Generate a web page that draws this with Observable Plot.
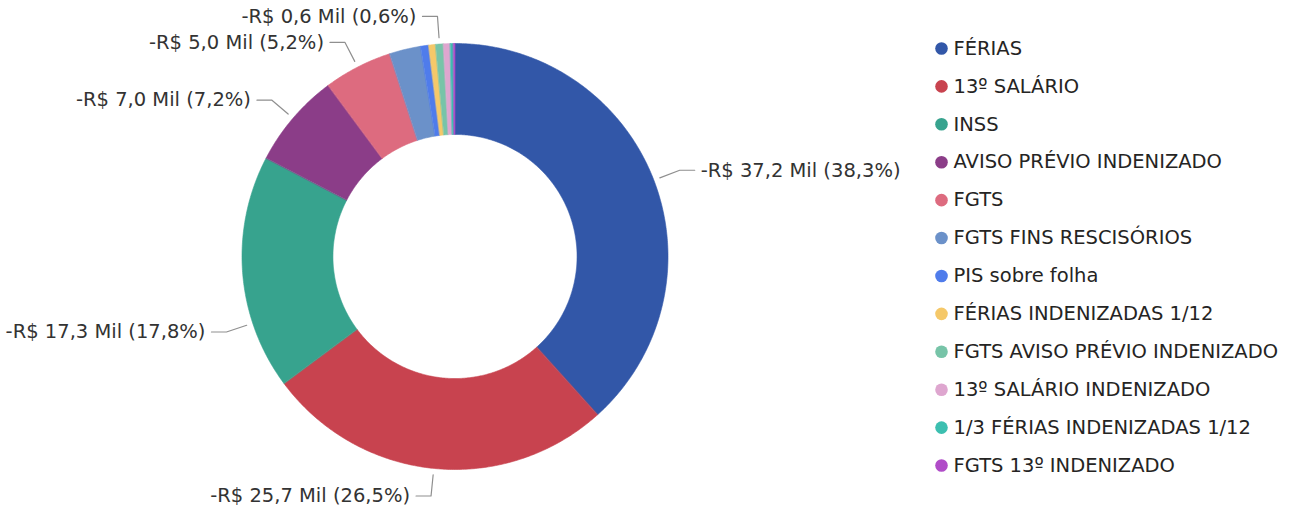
<!DOCTYPE html>
<html><head><meta charset="utf-8">
<script src="https://cdn.jsdelivr.net/npm/d3@7"></script>
<script src="https://cdn.jsdelivr.net/npm/@observablehq/plot@0.6"></script>
<style>
html,body{margin:0;padding:0;background:#fff;}
#wrap{position:relative;width:1298px;height:510px;overflow:hidden;font-family:"DejaVu Sans",sans-serif;}
#wrap svg{position:absolute;top:0;}
</style></head><body><div id="wrap"></div>
<script>
// categories (legend order = slice order, clockwise from 12 o'clock)
const categories = ["FÉRIAS","13º SALÁRIO","INSS","AVISO PRÉVIO INDENIZADO","FGTS","FGTS FINS RESCISÓRIOS","PIS sobre folha","FÉRIAS INDENIZADAS 1/12","FGTS AVISO PRÉVIO INDENIZADO","13º SALÁRIO INDENIZADO","1/3 FÉRIAS INDENIZADAS 1/12","FGTS 13º INDENIZADO"];
// values in R$ Mil (negative amounts)
const values = [-37.20, -25.72, -17.28, -6.99, -5.04, -2.30, -0.60, -0.50, -0.57, -0.50, -0.22, -0.12];
// slices that carry a data label in the original
const labelled = ["FÉRIAS","13º SALÁRIO","INSS","AVISO PRÉVIO INDENIZADO","FGTS","FGTS AVISO PRÉVIO INDENIZADO"];
const palette = ["#3257A8","#C8434F","#37A38E","#8B3D88","#DD6B7F","#6B91C9","#4F7CEB","#F5C869","#77C4A8","#DEA6CF","#3CBFB0","#B04CC8"];

const W = 1298, H = 510;
const mL = 241.5, mR = 630.5, mT = 43, mB = 41;
const pxPerUnit = (W - mL - mR) / 2;
const cxPx = mL + pxPerUnit;
const fontSize = 19.5;

const total = d3.sum(values, v => Math.abs(v));
const innerRatio = 0.573;
let cum = 0;
const slices = categories.map((name, i) => {
  const v = Math.abs(values[i]);
  const s = {name, value: values[i], a0: cum / total * 2 * Math.PI, a1: (cum + v) / total * 2 * Math.PI, pct: v / total * 100};
  cum += v;
  return s;
});

const ring = [];
for (const s of slices) {
  const n = Math.max(2, Math.ceil((s.a1 - s.a0) / (Math.PI / 360)));
  for (let k = 0; k <= n; k++) { const a = s.a0 + (s.a1 - s.a0) * k / n; ring.push({name: s.name, x: Math.sin(a), y: Math.cos(a)}); }
  for (let k = n; k >= 0; k--) { const a = s.a0 + (s.a1 - s.a0) * k / n; ring.push({name: s.name, x: innerRatio * Math.sin(a), y: innerRatio * Math.cos(a)}); }
}

const fmtNum = v => v.toFixed(1).replace(".", ",");
const fmt = s => (s.value < 0 ? "-R$ " : "R$ ") + fmtNum(Math.abs(s.value)) + " Mil (" + fmtNum(s.pct) + "%)";

const ctx = document.createElement("canvas").getContext("2d");
ctx.font = fontSize + "px 'DejaVu Sans'";
const hor = 15 / pxPerUnit, gap = 6, edge = 5;

const leaders = [], labels = [];
for (const s of slices.filter(s => labelled.includes(s.name))) {
  const text = fmt(s);
  const w = ctx.measureText(text).width;
  let a = (s.a0 + s.a1) / 2;
  const fits = a => {
    const side = Math.sin(a) >= 0 ? 1 : -1;
    const endX = cxPx + (1.13 * Math.sin(a) + side * hor) * pxPerUnit + side * gap;
    return side > 0 ? endX + w <= W - edge : endX - w >= edge;
  };
  // slide the anchor along the slice, away from the horizontal, until the label fits
  const step = Math.PI / 720;
  const dir = (Math.cos(a) < 0) ? (Math.sin(a) < 0 ? -1 : 1) : (Math.sin(a) < 0 ? 1 : -1);
  while (!fits(a) && a + dir * step > s.a0 && a + dir * step < s.a1) a += dir * step;
  const side = Math.sin(a) >= 0 ? 1 : -1;
  const ex = 1.13 * Math.sin(a), ey = 1.13 * Math.cos(a);
  leaders.push({name: s.name, x: 1.03 * Math.sin(a), y: 1.03 * Math.cos(a)}, {name: s.name, x: ex, y: ey}, {name: s.name, x: ex + side * hor, y: ey});
  labels.push({name: s.name, x: ex + side * hor, y: ey, side, text});
}

const font = {fontFamily: "DejaVu Sans", fontSize};
const chart = Plot.plot({
  width: W, height: H,
  marginLeft: mL, marginRight: mR, marginTop: mT, marginBottom: mB,
  x: {domain: [-1, 1], axis: null},
  y: {domain: [-1, 1], axis: null},
  color: {domain: categories, range: palette},
  style: {fontFamily: "DejaVu Sans", background: "transparent"},
  marks: [
    Plot.line(ring, {x: "x", y: "y", z: "name", fill: "name", stroke: "name", strokeWidth: 0.6, curve: "linear-closed"}),
    Plot.line(leaders, {x: "x", y: "y", z: "name", stroke: "#8f8f8f", strokeWidth: 1.2}),
    Plot.text(labels.filter(d => d.side > 0), {x: "x", y: "y", text: "text", textAnchor: "start", dx: gap, fill: "#333", ...font}),
    Plot.text(labels.filter(d => d.side < 0), {x: "x", y: "y", text: "text", textAnchor: "end", dx: -gap, fill: "#333", ...font})
  ]
});
chart.style.left = "0px";

const legend = Plot.plot({
  width: 378, height: H,
  marginLeft: 21, marginRight: 0, marginTop: 48, marginBottom: 45,
  y: {type: "point", domain: categories, padding: 0, round: false, axis: null},
  color: {domain: categories, range: palette},
  style: {fontFamily: "DejaVu Sans", background: "transparent"},
  marks: [
    Plot.dot(categories, {y: d => d, fill: d => d, r: 6.3, frameAnchor: "left"}),
    Plot.text(categories, {y: d => d, text: d => d, frameAnchor: "left", textAnchor: "start", dx: 12, fill: "#252423", ...font})
  ]
});
legend.style.left = "920px";

const wrap = document.getElementById("wrap");
wrap.appendChild(chart);
wrap.appendChild(legend);
</script>
</body></html>
